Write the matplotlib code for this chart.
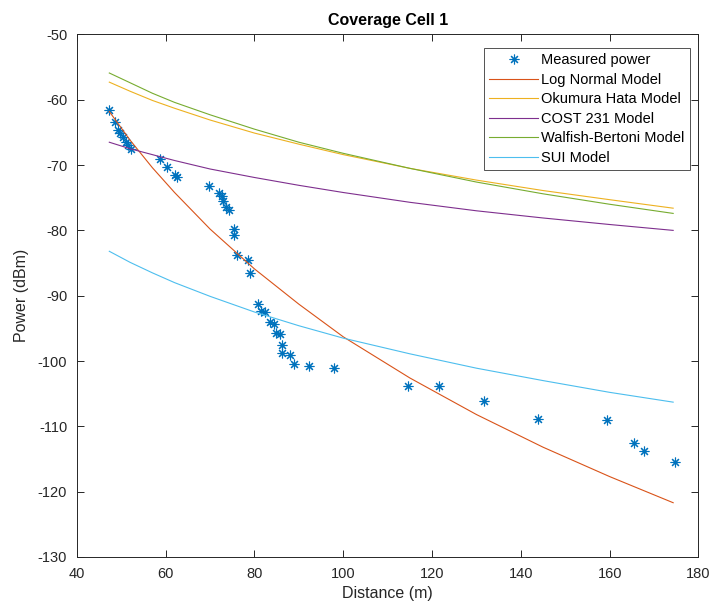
import numpy as np
import matplotlib
matplotlib.use("Agg")
import matplotlib.pyplot as plt

plt.rcParams["font.family"] = ["Liberation Sans", "DejaVu Sans"]
plt.rcParams["axes.unicode_minus"] = False

# Measured power
measured_distance = [
    47.3, 48.6, 49.3, 49.7, 50.4, 51.0, 51.6, 52.2, 58.7, 60.2, 62.1, 62.6,
    69.8, 72.1, 72.7, 72.9, 73.6, 74.2, 75.3, 75.4, 76.0, 78.5, 79.1,
    80.8, 81.5, 82.4, 83.4, 84.3, 84.9, 85.7, 86.3, 86.3, 88.1, 88.8,
    92.2, 97.9, 114.5, 121.5, 131.6, 143.8, 159.4, 165.5, 167.8, 174.8,
]
measured_power = [
    -61.6, -63.4, -64.6, -65.1, -65.7, -66.4, -66.9, -67.6, -69.0, -70.3, -71.5, -71.9,
    -73.2, -74.3, -74.8, -75.5, -76.4, -76.9, -79.8, -80.7, -83.7, -84.6, -86.5,
    -91.3, -92.3, -92.5, -94.1, -94.3, -95.7, -95.8, -97.5, -98.7, -99.1, -100.4,
    -100.8, -101.1, -103.8, -103.8, -106.1, -108.9, -109.0, -112.6, -113.8, -115.5,
]

# Model curves
model_distance = [47.3, 52, 57, 62, 70, 80, 90, 100, 115, 130, 145, 160, 174.3]
log_normal = [-61.8, -66.2, -70.4, -74.2, -79.8, -85.9, -91.3, -96.3, -102.6, -108.2, -113.2, -117.7, -121.7]
okumura_hata = [-57.3, -58.7, -60.1, -61.3, -63.1, -65.1, -66.8, -68.4, -70.5, -72.3, -73.9, -75.3, -76.6]
cost231 = [-66.5, -67.5, -68.4, -69.3, -70.6, -71.9, -73.1, -74.2, -75.7, -77.0, -78.1, -79.1, -80.0]
walfish_bertoni = [-55.9, -57.4, -59.0, -60.4, -62.3, -64.5, -66.5, -68.2, -70.5, -72.6, -74.4, -76.0, -77.4]
sui = [-83.2, -84.9, -86.5, -88.0, -90.1, -92.5, -94.6, -96.5, -98.9, -101.1, -103.0, -104.8, -106.3]

fig = plt.figure(figsize=(7.12, 6.10), dpi=100)
ax = fig.add_axes([0.108, 0.087, 0.873, 0.8565])

ax.plot(measured_distance, measured_power, linestyle="none", marker=(8, 2, 0),
        markersize=7, markeredgewidth=0.8, color="#0072BD", label="Measured power")
ax.plot(model_distance, log_normal, color="#D95319", linewidth=0.8, label="Log Normal Model")
ax.plot(model_distance, okumura_hata, color="#EDB120", linewidth=0.8, label="Okumura Hata Model")
ax.plot(model_distance, cost231, color="#7E2F8E", linewidth=0.8, label="COST 231 Model")
ax.plot(model_distance, walfish_bertoni, color="#77AC30", linewidth=0.8, label="Walfish-Bertoni Model")
ax.plot(model_distance, sui, color="#4DBEEE", linewidth=0.8, label="SUI Model")

ax.set_xlim(40, 180)
ax.set_ylim(-130, -50)
ax.set_xticks(np.arange(40, 181, 20))
ax.set_yticks(np.arange(-130, -49, 10))

axis_color = "#262626"
for spine in ax.spines.values():
    spine.set_color(axis_color)
    spine.set_linewidth(0.7)
ax.tick_params(direction="in", top=True, right=True, length=5, width=0.7,
               colors=axis_color, labelsize=10.5)
ax.tick_params(axis="x", pad=7)
ax.tick_params(axis="y", pad=7)

ax.set_title("Coverage Cell 1", fontsize=11.5, fontweight="bold", color="black", pad=7)
ax.set_xlabel("Distance (m)", fontsize=11.5, color=axis_color, labelpad=4)
ax.set_ylabel("Power (dBm)", fontsize=11.5, color=axis_color, labelpad=6)

leg = ax.legend(loc="upper right", bbox_to_anchor=(0.986, 0.974), fontsize=10.5,
                frameon=True, fancybox=False, handlelength=3.4, handletextpad=0.2,
                borderpad=0.35, labelspacing=0.38, borderaxespad=0)
leg.get_frame().set_edgecolor(axis_color)
leg.get_frame().set_linewidth(0.7)

fig.savefig("out.png", dpi=100)
